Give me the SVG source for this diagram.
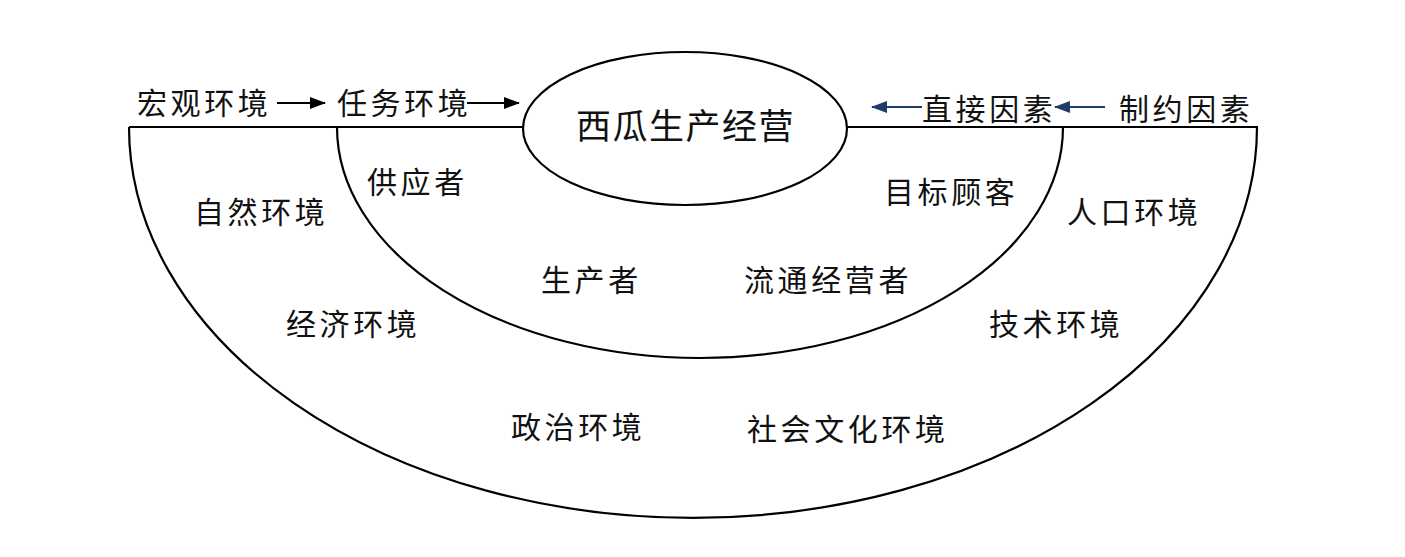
<svg xmlns="http://www.w3.org/2000/svg" width="1405" height="557" viewBox="0 0 1405 557">
<style>
.t{font-family:"Noto Sans CJK SC","Noto Sans",sans-serif;font-size:30px;letter-spacing:3.6px;fill:#111}
.title{font-family:"Noto Sans CJK SC","Noto Sans",sans-serif;font-size:35px;letter-spacing:1.5px;fill:#111}
.ln{fill:none;stroke:#000;stroke-width:2.2}
.ak{stroke:#000;stroke-width:2.2;fill:none}
.ab{stroke:#1f3a6b;stroke-width:2.2;fill:none}
</style>
<defs>
<marker id="hk" markerUnits="userSpaceOnUse" markerWidth="16" markerHeight="12" refX="15" refY="6" orient="auto">
<path d="M0,0 L16,6 L0,12 Z" fill="#000"/>
</marker>
<marker id="hb" markerUnits="userSpaceOnUse" markerWidth="16" markerHeight="12" refX="15" refY="6" orient="auto">
<path d="M0,0 L16,6 L0,12 Z" fill="#1f3a6b"/>
</marker>
</defs>
<rect width="1405" height="557" fill="#fff"/>
<g id="rings">
<path class="ln" d="M129,127 A564,391 0 0 0 1257,127"/>
<path class="ln" d="M337,127 A363,231 0 0 0 1063,127"/>
<line class="ln" x1="129" y1="127" x2="1258" y2="127" stroke-width="2.8"/>
</g>
<g id="connectors">
<line class="ak" x1="277" y1="103" x2="325" y2="103" marker-end="url(#hk)"/>
<line class="ak" x1="467" y1="103" x2="519" y2="103" marker-end="url(#hk)"/>
<line class="ab" x1="922" y1="107" x2="872" y2="107" marker-end="url(#hb)"/>
<line class="ab" x1="1105" y1="107" x2="1055" y2="107" marker-end="url(#hb)"/>
</g>
<g id="core">
<ellipse cx="685" cy="128.5" rx="162" ry="76.5" fill="#fff" stroke="#000" stroke-width="2.2"/>
<text class="title" x="576" y="139">西瓜生产经营</text>
</g>
<g id="macro-label"><text class="t" x="137" y="114">宏观环境</text></g>
<g id="task-label"><text class="t" x="337" y="114">任务环境</text></g>
<g id="direct-label"><text class="t" x="922" y="120">直接因素</text></g>
<g id="constraint-label"><text class="t" x="1119" y="120">制约因素</text></g>
<g id="supplier"><text class="t" x="367" y="193">供应者</text></g>
<g id="nature"><text class="t" x="194" y="223">自然环境</text></g>
<g id="customer"><text class="t" x="884" y="203">目标顾客</text></g>
<g id="population"><text class="t" x="1067" y="223">人口环境</text></g>
<g id="producer"><text class="t" x="541" y="291">生产者</text></g>
<g id="distributor"><text class="t" x="744" y="291">流通经营者</text></g>
<g id="economy"><text class="t" x="286" y="335">经济环境</text></g>
<g id="technology"><text class="t" x="989" y="335">技术环境</text></g>
<g id="politics"><text class="t" x="511" y="438">政治环境</text></g>
<g id="culture"><text class="t" x="747" y="440">社会文化环境</text></g>
</svg>
